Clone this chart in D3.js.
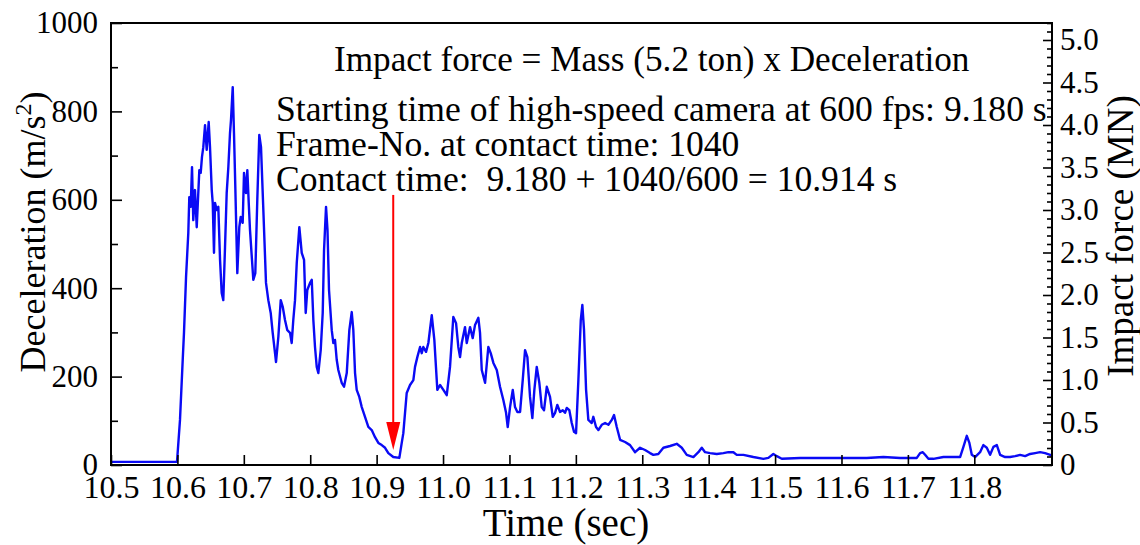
<!DOCTYPE html>
<html>
<head>
<meta charset="utf-8">
<script src="https://cdn.jsdelivr.net/npm/d3@7"></script>
<style>
  html, body { margin: 0; padding: 0; background: #fff; }
  svg { display: block; }
  text { font-family: "Liberation Serif", "Times New Roman", serif; fill: #000; }
</style>
</head>
<body>
<svg id="chart" width="1140" height="545"></svg>
<script>
// ---- data ----
const time = [10.5000,10.5994,10.6039,10.6080,10.6099,10.6130,10.6164,10.6179,10.6200,10.6220,10.6239,10.6265,10.6291,10.6330,10.6351,10.6370,10.6390,10.6416,10.6441,10.6471,10.6491,10.6517,10.6532,10.6551,10.6566,10.6592,10.6616,10.6642,10.6667,10.6691,10.6717,10.6742,10.6767,10.6792,10.6807,10.6833,10.6852,10.6872,10.6902,10.6932,10.6953,10.6983,10.7003,10.7033,10.7053,10.7074,10.7093,10.7123,10.7143,10.7173,10.7203,10.7233,10.7259,10.7294,10.7334,10.7369,10.7405,10.7435,10.7470,10.7485,10.7520,10.7556,10.7586,10.7620,10.7655,10.7696,10.7721,10.7745,10.7771,10.7797,10.7836,10.7872,10.7907,10.7932,10.7956,10.7997,10.8023,10.8047,10.8072,10.8098,10.8122,10.8158,10.8188,10.8208,10.8238,10.8260,10.8283,10.8324,10.8348,10.8373,10.8399,10.8423,10.8474,10.8509,10.8550,10.8589,10.8625,10.8649,10.8675,10.8700,10.8739,10.8776,10.8825,10.8875,10.8926,10.8976,10.9026,10.9077,10.9127,10.9176,10.9251,10.9342,10.9378,10.9402,10.9453,10.9503,10.9553,10.9578,10.9613,10.9654,10.9679,10.9703,10.9744,10.9779,10.9830,10.9869,10.9914,10.9955,11.0005,11.0056,11.0105,11.0155,11.0196,11.0230,11.0256,11.0282,11.0331,11.0357,11.0407,11.0447,11.0482,11.0532,11.0557,11.0583,11.0633,11.0682,11.0718,11.0758,11.0809,11.0858,11.0908,11.0949,11.0974,11.1009,11.1050,11.1084,11.1119,11.1160,11.1200,11.1235,11.1270,11.1310,11.1345,11.1375,11.1411,11.1450,11.1486,11.1521,11.1562,11.1611,11.1652,11.1687,11.1721,11.1762,11.1803,11.1837,11.1863,11.1902,11.1938,11.1973,11.2003,11.2038,11.2074,11.2098,11.2123,11.2154,11.2188,11.2239,11.2263,11.2304,11.2339,11.2390,11.2440,11.2490,11.2541,11.2575,11.2616,11.2666,11.2741,11.2816,11.2892,11.2967,11.3042,11.3117,11.3167,11.3242,11.3318,11.3419,11.3519,11.3595,11.3670,11.3770,11.3845,11.3896,11.3946,11.4021,11.4122,11.4221,11.4297,11.4372,11.4423,11.4523,11.4673,11.4824,11.4899,11.4974,11.5026,11.5101,11.5377,11.5628,11.5878,11.6130,11.6381,11.6631,11.6883,11.7134,11.7184,11.7224,11.7259,11.7309,11.7384,11.7535,11.7685,11.7786,11.7836,11.7887,11.7926,11.7962,11.8012,11.8087,11.8137,11.8188,11.8238,11.8288,11.8339,11.8389,11.8464,11.8539,11.8614,11.8690,11.8765,11.8840,11.8916,11.8991,11.9066,11.9142,11.9170];
const decel = [7,7,102,238,299,425,525,606,584,674,554,622,538,667,661,697,719,769,713,776,719,622,593,480,593,577,584,464,389,373,493,615,674,751,781,855,751,629,434,538,561,548,661,615,667,593,532,464,419,434,600,747,719,577,412,373,344,299,253,233,290,373,358,328,305,299,276,328,373,457,538,480,464,344,396,412,419,328,267,222,208,260,344,486,584,532,396,305,276,283,238,215,186,177,208,305,346,305,208,170,154,131,109,86,79,63,50,45,39,27,18,16,50,72,163,181,192,222,244,267,253,267,256,276,339,283,170,181,170,158,222,335,321,267,244,276,312,276,312,287,317,333,299,215,186,267,253,231,215,177,147,118,86,131,170,131,120,120,192,260,244,154,106,170,222,186,131,124,177,154,109,118,136,120,124,118,129,124,95,75,72,192,328,362,305,170,102,95,109,86,79,91,95,91,102,113,86,57,52,45,29,39,34,27,23,25,39,43,48,39,23,18,29,39,29,27,25,27,29,29,23,23,18,14,16,25,20,14,16,16,16,16,16,18,16,16,27,29,23,14,14,18,18,18,41,66,50,23,18,29,45,39,23,41,45,23,18,18,20,23,20,25,27,29,27,23,20];

const xTicks = [10.5,10.6,10.7,10.8,10.9,11.0,11.1,11.2,11.3,11.4,11.5,11.6,11.7,11.8];
const yTicks = [0,200,400,600,800,1000];
const yMinorTicks = [100,300,500,700,900];
const forceTicks = [0,0.5,1.0,1.5,2.0,2.5,3.0,3.5,4.0,4.5,5.0];
const forceMinorStep = 0.1;
const massTon = 5.2;               // force (MN) = 5.2 t x decel / 1000
const arrowTime = 10.925;          // red arrow position (contact time marker)
const arrowTop = 611, arrowTip = 34;
const titleText = "Impact force = Mass (5.2 ton) x Deceleration";
const noteLines = [
  "Starting time of high-speed camera at 600 fps: 9.180 s",
  "Frame-No. at contact time: 1040",
  "Contact time:  9.180 + 1040/600 = 10.914 s"
];

// ---- layout ----
const L = 111, R = 1052, T = 23, B = 465;
const svg = d3.select("#chart");

const x = d3.scaleLinear().domain([10.5, 11.917]).range([L, R]);
const y = d3.scaleLinear().domain([0, 1000]).range([B, T]);
const yF = d3.scaleLinear().domain([0, massTon]).range([B, T]);

// signal
const pts = time.map((t, i) => [t, decel[i]]);
svg.append("path")
  .datum(pts)
  .attr("fill", "none")
  .attr("stroke", "#0a0af5")
  .attr("stroke-width", 2.4)
  .attr("stroke-linejoin", "round")
  .attr("d", d3.line().x(d => x(d[0])).y(d => y(d[1])));

// axes
const gx = svg.append("g").attr("transform", `translate(0,${B})`)
  .call(d3.axisBottom(x).tickValues(xTicks).tickFormat(d3.format(".1f")).tickSizeInner(-10).tickSizeOuter(0).tickPadding(10));
const gy = svg.append("g").attr("transform", `translate(${L},0)`)
  .call(d3.axisLeft(y).tickValues(yTicks).tickFormat(d3.format("d")).tickSizeInner(-11).tickSizeOuter(0).tickPadding(13));
const gyMinor = svg.append("g").attr("transform", `translate(${L},0)`)
  .call(d3.axisLeft(y).tickValues(yMinorTicks).tickFormat("").tickSizeInner(-7).tickSizeOuter(0));
const forceMinor = d3.range(0, 5.2 + 1e-9, forceMinorStep).filter(v => Math.abs(v * 2 - Math.round(v * 2)) > 1e-6);
const gf = svg.append("g").attr("transform", `translate(${R},0)`)
  .call(d3.axisRight(yF).tickValues(forceTicks).tickFormat(d => d === 0 ? "0" : d3.format(".1f")(d)).tickSizeInner(-9).tickSizeOuter(0).tickPadding(8));
const gfMinor = svg.append("g").attr("transform", `translate(${R},0)`)
  .call(d3.axisRight(yF).tickValues(forceMinor).tickFormat("").tickSizeInner(-5).tickSizeOuter(0));

[gx, gy, gyMinor, gf, gfMinor].forEach(g => {
  g.select(".domain").remove();
  g.selectAll("line").attr("stroke", "#000").attr("stroke-width", 1.6);
  g.selectAll("text").attr("fill", "#000");
});
gx.selectAll("text").style("font-size", "32px");
gy.selectAll("text").style("font-size", "31px");
gf.selectAll("text").style("font-size", "31px");

// frame
svg.append("rect").attr("x", L).attr("y", T).attr("width", R - L).attr("height", B - T)
  .attr("fill", "none").attr("stroke", "#000").attr("stroke-width", 2);

// axis titles
svg.append("text").attr("x", 566).attr("y", 536).attr("text-anchor", "middle")
  .style("font-size", "39px").text("Time (sec)");
const yl = svg.append("text").attr("transform", `translate(45,${232}) rotate(-90)`)
  .attr("text-anchor", "middle").style("font-size", "36px");
yl.append("tspan").text("Deceleration (m/s");
yl.append("tspan").style("font-size", "24px").attr("dy", -14).text("2");
yl.append("tspan").attr("dy", 14).text(")");
svg.append("text").attr("transform", `translate(1133,${236}) rotate(-90)`)
  .attr("text-anchor", "middle").style("font-size", "37px").text("Impact force (MN)");

// annotations
svg.append("text").attr("x", 334).attr("y", 71).style("font-size", "35.2px").text(titleText);
svg.append("g").selectAll("text").data(noteLines).join("text")
  .attr("x", 276).attr("y", (d, i) => 121 + i * 35)
  .style("font-size", "35.6px").style("white-space", "pre")
  .text(d => d);

// red arrow
const ax = x(arrowTime);
const headLen = 28, headHalf = 7;
svg.append("line").attr("x1", ax).attr("x2", ax).attr("y1", y(arrowTop)).attr("y2", y(arrowTip) - headLen + 2)
  .attr("stroke", "#ff0000").attr("stroke-width", 2);
svg.append("path")
  .attr("d", `M${ax - headHalf},${y(arrowTip) - headLen} L${ax + headHalf},${y(arrowTip) - headLen} L${ax},${y(arrowTip)} Z`)
  .attr("fill", "#ff0000");
</script>
</body>
</html>
